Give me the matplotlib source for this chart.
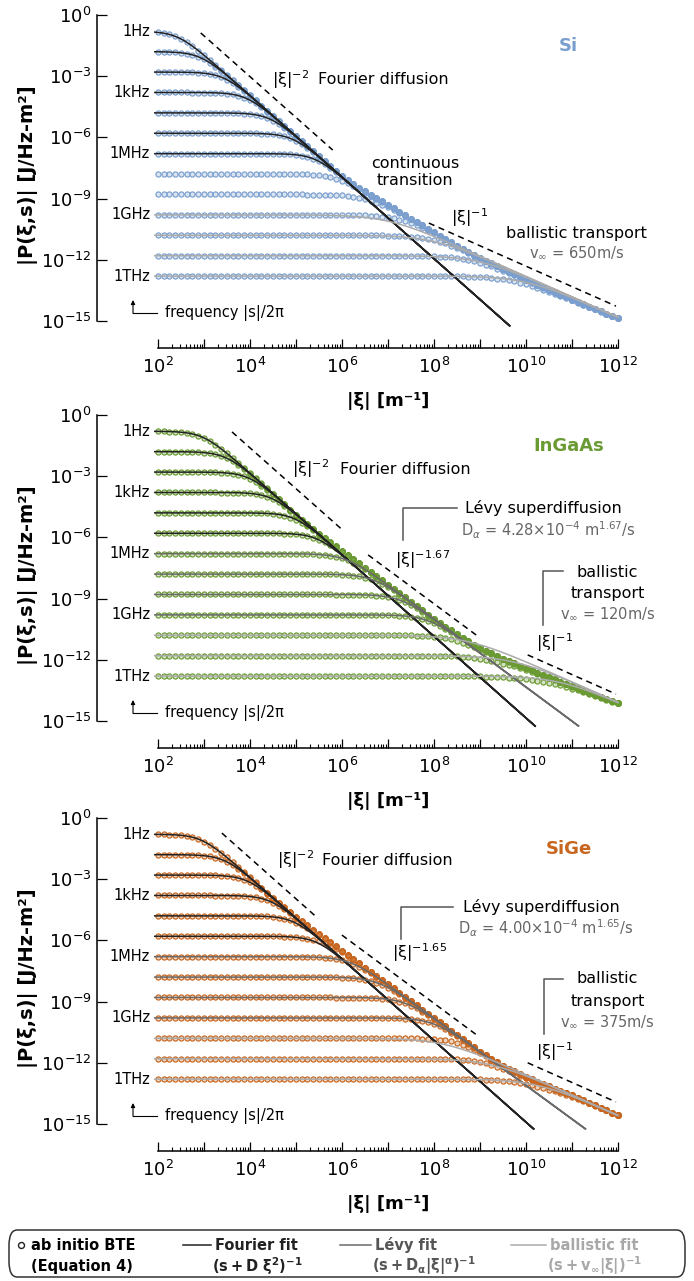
import numpy as np
import matplotlib.pyplot as plt
from matplotlib.ticker import FixedLocator, FuncFormatter, NullLocator
from matplotlib.patches import FancyBboxPatch
from matplotlib.lines import Line2D

plt.rcParams['font.family'] = ['DejaVu Sans']
plt.rcParams['mathtext.fontset'] = 'dejavusans'

# 13 heating frequencies |s|/2pi, 1 Hz ... 1 THz
freqs = [1e0, 1e1, 1e2, 1e3, 1e4, 1e5, 1e6, 1e7, 1e8, 1e9, 1e10, 1e11, 1e12]
freq_names = ['1Hz', '', '', '1kHz', '', '', '1MHz', '', '', '1GHz', '', '', '1THz']

# BTE envelope (log10 |P| of the s -> 0 curve)
env_logxi = [2, 3, 4, 4.5, 5, 5.5, 6, 6.5, 7, 7.5, 8, 8.5, 9, 9.5, 10, 10.5, 11, 11.5, 12]
si_env = [0.06, -1.94, -3.94, -4.94, -5.94, -6.93, -7.88, -8.65, -9.3, -9.98,
          -10.65, -11.3, -11.9, -12.45, -12.98, -13.48, -13.96, -14.42, -14.87]
ingaas_env = [1.15, -0.85, -2.85, -3.85, -4.9, -5.82, -6.65, -7.48, -8.32, -9.15,
              -10.0, -10.75, -11.42, -11.95, -12.4, -12.85, -13.3, -13.72, -14.12]
sige_env = [1.1, -0.9, -2.9, -3.92, -4.85, -5.68, -6.5, -7.33, -8.15, -8.98,
            -9.8, -10.63, -11.45, -12.15, -12.7, -13.15, -13.6, -14.08, -14.57]

# fit parameters
si_D, si_v = 8.7e-5, 650.0
ingaas_D, ingaas_Da, ingaas_alpha, ingaas_v = 7e-6, 4.28e-4, 1.67, 120.0
sige_D, sige_Da, sige_alpha, sige_v = 8e-6, 4.00e-4, 1.65, 375.0

# fit drawn through each frequency row: F Fourier, L Levy, B ballistic
si_rowfit = ['F'] * 7 + [''] * 2 + ['B'] * 4
ingaas_rowfit = ['F'] * 6 + ['L'] * 4 + ['B'] * 3
sige_rowfit = ['F'] * 6 + ['L'] * 4 + ['B'] * 3

si_col, ingaas_col, sige_col = '#7a9fce', '#6a9a32', '#c8661f'
fit_cols = {'F': '#222222', 'L': '#6a6a6a', 'B': '#ababab'}

W, H = 694, 1281
fig = plt.figure(figsize=(W / 100, H / 100), dpi=100)
panel_tops = [15, 415, 818]

panels = [
    dict(name='Si', col=si_col, env=si_env, D=si_D, Da=None, alpha=None, v=si_v,
         rowfit=si_rowfit),
    dict(name='InGaAs', col=ingaas_col, env=ingaas_env, D=ingaas_D, Da=ingaas_Da,
         alpha=ingaas_alpha, v=ingaas_v, rowfit=ingaas_rowfit),
    dict(name='SiGe', col=sige_col, env=sige_env, D=sige_D, Da=sige_Da,
         alpha=sige_alpha, v=sige_v, rowfit=sige_rowfit),
]

xi_pts = np.logspace(2, 12, 81)
xi_line = np.logspace(1.93, 12, 600)
pmin = 10 ** -15.25


def L(lx, lp):
    return 10 ** lx, 10 ** lp


def even_decades(x, pos):
    k = int(round(np.log10(x)))
    return r'$10^{%d}$' % k if k % 2 == 0 else ''


axes = []
for top, p in zip(panel_tops, panels):
    bottom = top + 15.6 * 20.4
    ax = fig.add_axes([97 / W, 1 - bottom / H, 530 / W, (bottom - top + 4.1) / H])
    axes.append(ax)
    ax.set_xscale('log')
    ax.set_yscale('log')
    ax.set_xlim(10 ** 0.674, 10 ** 12.2)
    ax.set_ylim(10 ** -15.6, 10 ** 0.2)
    ax.patch.set_alpha(0)

    col = p['col']
    face = (*plt.matplotlib.colors.to_rgb(col), 0.28)
    env_rate = 10 ** (-np.interp(np.log10(xi_pts), env_logxi, p['env']))

    for k, f in enumerate(freqs):
        s = 2 * np.pi * f
        P = 1 / (s + env_rate)
        ax.plot(xi_pts, P, 'o', ls='none', ms=3.7, mew=0.85, mec=col, mfc=face,
                zorder=2, clip_on=False)
        kind = p['rowfit'][k]
        if kind == 'F':
            fit = 1 / (s + p['D'] * xi_line ** 2)
        elif kind == 'L':
            fit = 1 / (s + p['Da'] * xi_line ** p['alpha'])
        elif kind == 'B':
            fit = 1 / (s + p['v'] * xi_line)
        else:
            fit = None
        if fit is not None:
            fit = np.where(fit < pmin, np.nan, fit)
            ax.plot(xi_line, fit, color=fit_cols[kind], lw=1.1, zorder=3)
        if freq_names[k]:
            ax.text(10 ** 1.83, 1 / s, freq_names[k], ha='right', va='center',
                    fontsize=10.5)

    # axes styling
    for side in ['top', 'right']:
        ax.spines[side].set_visible(False)
    ax.spines['left'].set_bounds(1e-15, 1)
    ax.spines['bottom'].set_bounds(1e2, 1e12)
    ax.spines['bottom'].set_position(('outward', 10.7))
    for side in ['left', 'bottom']:
        ax.spines[side].set_linewidth(1.1)
    ax.yaxis.set_major_locator(FixedLocator([10.0 ** -k for k in range(0, 16, 3)]))
    ax.yaxis.set_minor_locator(NullLocator())
    ax.xaxis.set_major_locator(FixedLocator([10.0 ** k for k in range(2, 13)]))
    ax.xaxis.set_minor_locator(FixedLocator([m * 10.0 ** k for k in range(2, 12)
                                             for m in range(2, 10)]))
    ax.xaxis.set_major_formatter(FuncFormatter(even_decades))
    ax.tick_params(axis='x', which='major', direction='in', length=6.5, width=0.9,
                   labelsize=13, pad=6)
    ax.tick_params(axis='x', which='minor', direction='in', length=3, width=0.8)
    ax.tick_params(axis='y', which='major', direction='in', length=7, width=0.9,
                   labelsize=13, pad=4)
    ax.set_xlabel('|ξ| [m⁻¹]', fontsize=13, fontweight='bold')
    ax.xaxis.set_label_coords(0.549, -0.182)
    ax.set_ylabel('|P(ξ,s)| [J/Hz-m²]', fontsize=14, fontweight='bold')
    ax.yaxis.set_label_coords(-0.111, 0.49)

    # frequency arrow
    ax.annotate('', xy=L(1.457, -13.97), xytext=L(1.457, -14.62),
                arrowprops=dict(arrowstyle='-|>', lw=0.8, color='k',
                                mutation_scale=6, shrinkA=0, shrinkB=0),
                annotation_clip=False)
    ax.plot([10 ** 1.457, 10 ** 1.978], [10 ** -14.6] * 2, color='k', lw=0.8,
            clip_on=False)
    ax.text(*L(2.15, -14.6), 'frequency |s|/2π', ha='left', va='center', fontsize=10.5)

    ax.text(*L(10.93, -1.5), p['name'], ha='center', va='center', fontsize=13,
            fontweight='bold', color=col)


def guide(ax, x0, x1, y0, slope):
    xs = np.array([x0, x1])
    ax.plot(10 ** xs, 10 ** (y0 + slope * (xs - x0)), color='k', lw=1.1,
            ls=(0, (4, 3)), zorder=4, clip_on=False)


def bracket(ax, x, ytop, ybot, xend):
    ax.plot([10 ** x, 10 ** x, 10 ** xend], [10 ** ybot, 10 ** ytop, 10 ** ytop],
            color='#555555', lw=1.1, clip_on=False)


tsize = 11.5
gray = '#666666'

# Si annotations
ax = axes[0]
guide(ax, 2.93, 5.80, -0.88, -2)
guide(ax, 7.89, 11.96, -10.2, -1)
ax.text(*L(4.48, -3.15), r'|ξ|$^{-2}$', fontsize=tsize, va='center')
ax.text(*L(5.48, -3.15), 'Fourier diffusion', fontsize=tsize, va='center')
ax.text(*L(7.59, -7.7), 'continuous\ntransition', fontsize=tsize, ha='center',
        va='center', linespacing=1.15)
ax.text(*L(8.78, -9.95), r'|ξ|$^{-1}$', fontsize=tsize, ha='center', va='center')
ax.text(*L(11.1, -10.69), 'ballistic transport', fontsize=tsize, ha='center',
        va='center')
ax.text(*L(11.1, -11.67), r'v$_\infty$ = 650m/s', fontsize=10.5, ha='center',
        va='center', color=gray)

# InGaAs annotations
ax = axes[1]
guide(ax, 3.61, 6.02, -0.83, -2)
guide(ax, 6.57, 8.96, -6.86, -1.67)
guide(ax, 10.04, 11.96, -11.76, -1)
ax.text(*L(4.91, -2.65), r'|ξ|$^{-2}$', fontsize=tsize, va='center')
ax.text(*L(5.96, -2.65), 'Fourier diffusion', fontsize=tsize, va='center')
bracket(ax, 7.33, -4.56, -6.13, 8.5)
ax.text(*L(8.67, -4.56), 'Lévy superdiffusion', fontsize=tsize, va='center')
ax.text(*L(8.59, -5.64), r'D$_\alpha$ = 4.28×10$^{-4}$ m$^{1.67}$/s', fontsize=10.5,
        va='center', color=gray)
ax.text(*L(7.15, -7.1), r'|ξ|$^{-1.67}$', fontsize=tsize, va='center')
bracket(ax, 10.37, -7.65, -10.29, 10.8)
ax.text(*L(11.78, -7.7), 'ballistic', fontsize=tsize, ha='center', va='center')
ax.text(*L(11.78, -8.77), 'transport', fontsize=tsize, ha='center', va='center')
ax.text(*L(11.78, -9.75), r'v$_\infty$ = 120m/s', fontsize=10.5, ha='center',
        va='center', color=gray)
ax.text(*L(10.22, -11.18), r'|ξ|$^{-1}$', fontsize=tsize, va='center')

# SiGe annotations
ax = axes[2]
guide(ax, 3.39, 5.48, -0.74, -2)
guide(ax, 6.0, 8.93, -5.74, -1.67)
guide(ax, 10.04, 11.96, -12.0, -1)
ax.text(*L(4.59, -2.06), r'|ξ|$^{-2}$', fontsize=tsize, va='center')
ax.text(*L(5.57, -2.06), 'Fourier diffusion', fontsize=tsize, va='center')
bracket(ax, 7.28, -4.36, -5.93, 8.41)
ax.text(*L(8.63, -4.36), 'Lévy superdiffusion', fontsize=tsize, va='center')
ax.text(*L(8.52, -5.39), r'D$_\alpha$ = 4.00×10$^{-4}$ m$^{1.65}$/s', fontsize=10.5,
        va='center', color=gray)
ax.text(*L(7.09, -6.62), r'|ξ|$^{-1.65}$', fontsize=tsize, va='center')
bracket(ax, 10.39, -7.89, -10.59, 10.8)
ax.text(*L(11.78, -7.89), 'ballistic', fontsize=tsize, ha='center', va='center')
ax.text(*L(11.78, -9.02), 'transport', fontsize=tsize, ha='center', va='center')
ax.text(*L(11.78, -10.0), r'v$_\infty$ = 375m/s', fontsize=10.5, ha='center',
        va='center', color=gray)
ax.text(*L(10.22, -11.47), r'|ξ|$^{-1}$', fontsize=tsize, va='center')


# legend box at the bottom (figure pixel coordinates)
def fx(x):
    return x / W


def fy(y):
    return 1 - y / H


fig.patches.append(FancyBboxPatch((fx(9), fy(1277)), fx(676), 47 / H,
                                  boxstyle='round,pad=0,rounding_size=0.012',
                                  transform=fig.transFigure, fill=False,
                                  ec='#333333', lw=1.1))
fig.lines.append(Line2D([fx(21)], [fy(1245)], marker='o', ms=4.3, mew=1.0,
                        mec='#222222', mfc='white', transform=fig.transFigure))
lsize = 10.5
fig.text(fx(31), fy(1245), 'ab initio BTE', fontsize=lsize, fontweight='bold',
         va='center')
fig.text(fx(31), fy(1266), '(Equation 4)', fontsize=lsize, fontweight='bold',
         va='center')
legend_items = [
    (183, 215, 'F', 'Fourier fit', r'$\mathbf{(s + D\ \xi^2)^{-1}}$', '#222222'),
    (340, 375, 'L', 'Lévy fit', r'$\mathbf{(s + D_\alpha|\xi|^\alpha)^{-1}}$', '#555555'),
    (511, 550, 'B', 'ballistic fit', r'$\mathbf{(s + v_\infty|\xi|)^{-1}}$', '#a8a8a8'),
]
for x0, x1, kind, name, formula, tcol in legend_items:
    fig.lines.append(Line2D([fx(x0), fx(x1 - 4)], [fy(1245)] * 2, color=fit_cols[kind],
                            lw=1.1, transform=fig.transFigure))
    fig.text(fx(x1), fy(1245), name, fontsize=lsize, fontweight='bold', va='center',
             color=tcol)
    fig.text(fx(x1 - 3), fy(1266), formula, fontsize=lsize, va='center', color=tcol)

fig.savefig('out.png', dpi=100)
